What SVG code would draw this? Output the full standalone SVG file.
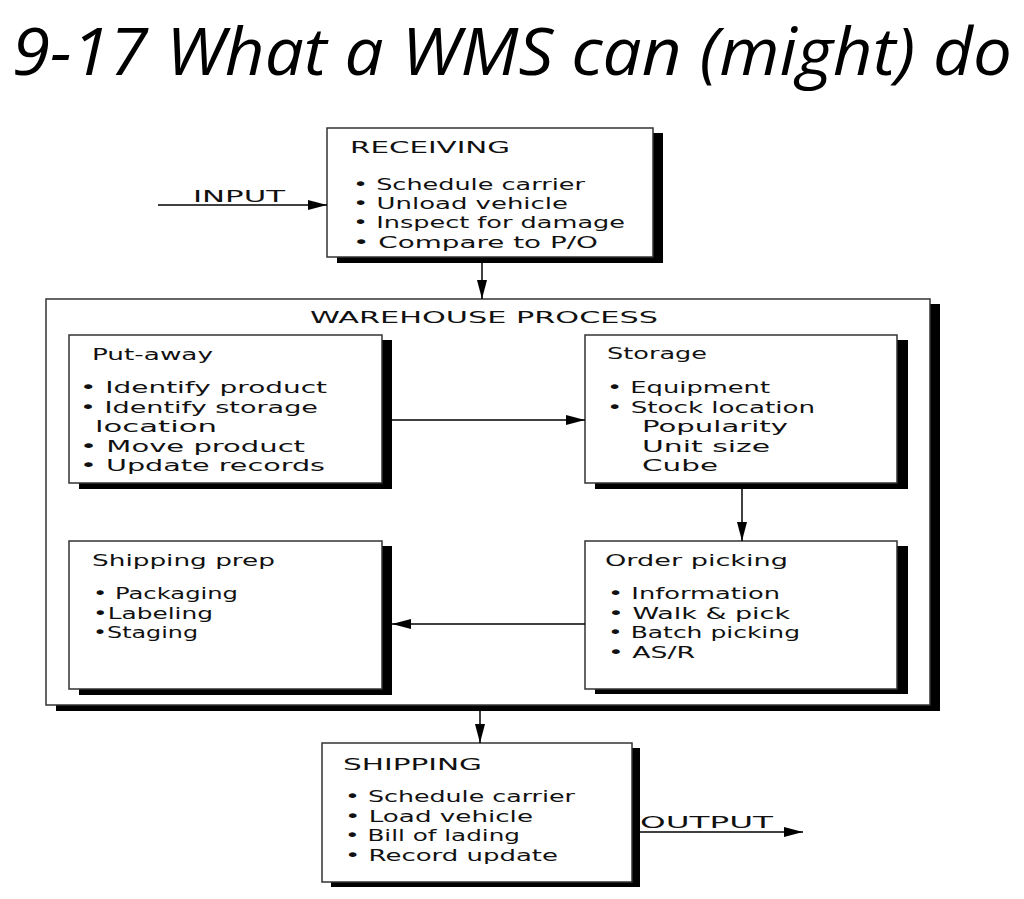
<svg xmlns="http://www.w3.org/2000/svg" width="1024" height="899" viewBox="0 0 1024 899">
<style>
.t{font-family:"DejaVu Sans","Liberation Sans",sans-serif;font-size:16.5px;fill:#111}
.box{fill:#fff;stroke:#333;stroke-width:1.5}
.sh{fill:#000}
.c{stroke:#000;stroke-width:1.5;fill:none;marker-end:url(#ah)}
.title{font-family:"Open Sans","Liberation Sans",sans-serif;font-style:italic;font-size:66px;fill:#000}
</style>
<defs>
<marker id="ah" markerUnits="userSpaceOnUse" markerWidth="20" markerHeight="12" refX="19" refY="6" orient="auto">
<path d="M0,1 L19,6 L0,11 z" fill="#000"/>
</marker>
</defs>
<rect width="1024" height="899" fill="#fff"/>
<text class="title" x="12" y="75" textLength="1000" lengthAdjust="spacingAndGlyphs">9-17 What a WMS can (might) do</text>

<g id="warehouse">
<rect class="sh" x="56" y="304" width="884" height="407"/>
<rect class="box" x="46" y="299" width="884" height="406"/>
<text class="t" x="310" y="323" textLength="348" lengthAdjust="spacingAndGlyphs">WAREHOUSE PROCESS</text>
</g>

<g id="receiving">
<rect class="sh" x="337" y="133" width="326" height="130"/>
<rect class="box" x="327" y="128" width="326" height="129"/>
<text class="t" x="350" y="153" textLength="160" lengthAdjust="spacingAndGlyphs">RECEIVING</text>
<text class="t" x="353" y="190" textLength="232" lengthAdjust="spacingAndGlyphs">• Schedule carrier</text>
<text class="t" x="353" y="209" textLength="215" lengthAdjust="spacingAndGlyphs">• Unload vehicle</text>
<text class="t" x="353" y="228" textLength="272" lengthAdjust="spacingAndGlyphs">• Inspect for damage</text>
<text class="t" x="353" y="248" textLength="245" lengthAdjust="spacingAndGlyphs">• Compare to P/O</text>
</g>

<g id="putaway">
<rect class="sh" x="79" y="340" width="313" height="149"/>
<rect class="box" x="69" y="335" width="313" height="148"/>
<text class="t" x="92" y="360" textLength="121" lengthAdjust="spacingAndGlyphs">Put-away</text>
<text class="t" x="80" y="393" textLength="247" lengthAdjust="spacingAndGlyphs">• Identify product</text>
<text class="t" x="80" y="412.5" textLength="238" lengthAdjust="spacingAndGlyphs">• Identify storage</text>
<text class="t" x="95" y="432" textLength="122" lengthAdjust="spacingAndGlyphs">location</text>
<text class="t" x="80" y="451.5" textLength="225" lengthAdjust="spacingAndGlyphs">• Move product</text>
<text class="t" x="80" y="471" textLength="245" lengthAdjust="spacingAndGlyphs">• Update records</text>
</g>

<g id="storage">
<rect class="sh" x="595" y="340" width="313" height="149"/>
<rect class="box" x="585" y="335" width="312" height="148"/>
<text class="t" x="607" y="359" textLength="100" lengthAdjust="spacingAndGlyphs">Storage</text>
<text class="t" x="607" y="393" textLength="163" lengthAdjust="spacingAndGlyphs">• Equipment</text>
<text class="t" x="607" y="412.5" textLength="208" lengthAdjust="spacingAndGlyphs">• Stock location</text>
<text class="t" x="642" y="432" textLength="146" lengthAdjust="spacingAndGlyphs">Popularity</text>
<text class="t" x="642" y="451.5" textLength="128" lengthAdjust="spacingAndGlyphs">Unit size</text>
<text class="t" x="642" y="471" textLength="76" lengthAdjust="spacingAndGlyphs">Cube</text>
</g>

<g id="shippingprep">
<rect class="sh" x="79" y="546" width="313" height="149"/>
<rect class="box" x="69" y="541" width="313" height="148"/>
<text class="t" x="92" y="566" textLength="183" lengthAdjust="spacingAndGlyphs">Shipping prep</text>
<text class="t" x="93" y="599" textLength="145" lengthAdjust="spacingAndGlyphs">• Packaging</text>
<text class="t" x="93" y="618.5" textLength="120" lengthAdjust="spacingAndGlyphs">•Labeling</text>
<text class="t" x="93" y="638" textLength="105" lengthAdjust="spacingAndGlyphs">•Staging</text>
</g>

<g id="orderpicking">
<rect class="sh" x="595" y="546" width="313" height="148"/>
<rect class="box" x="585" y="541" width="312" height="148"/>
<text class="t" x="605" y="566" textLength="183" lengthAdjust="spacingAndGlyphs">Order picking</text>
<text class="t" x="608" y="599" textLength="172" lengthAdjust="spacingAndGlyphs">• Information</text>
<text class="t" x="608" y="618.5" textLength="182" lengthAdjust="spacingAndGlyphs">• Walk &amp; pick</text>
<text class="t" x="608" y="638" textLength="192" lengthAdjust="spacingAndGlyphs">• Batch picking</text>
<text class="t" x="608" y="657.5" textLength="87" lengthAdjust="spacingAndGlyphs">• AS/R</text>
</g>

<g id="shipping">
<rect class="sh" x="331" y="748" width="309" height="139"/>
<rect class="box" x="322" y="743" width="310" height="139"/>
<text class="t" x="343" y="770" textLength="139" lengthAdjust="spacingAndGlyphs">SHIPPING</text>
<text class="t" x="345" y="802" textLength="230" lengthAdjust="spacingAndGlyphs">• Schedule carrier</text>
<text class="t" x="345" y="821.5" textLength="188" lengthAdjust="spacingAndGlyphs">• Load vehicle</text>
<text class="t" x="345" y="841" textLength="175" lengthAdjust="spacingAndGlyphs">• Bill of lading</text>
<text class="t" x="345" y="860.5" textLength="213" lengthAdjust="spacingAndGlyphs">• Record update</text>
</g>

<g id="connectors">
<line class="c" x1="158" y1="205" x2="327" y2="205"/>
<text class="t" x="193" y="202" textLength="92" lengthAdjust="spacingAndGlyphs">INPUT</text>
<line class="c" x1="482" y1="263" x2="482" y2="299"/>
<line class="c" x1="392" y1="420" x2="585" y2="420"/>
<line class="c" x1="742" y1="489" x2="742" y2="541"/>
<line class="c" x1="585" y1="624" x2="392" y2="624"/>
<line class="c" x1="480" y1="711" x2="480" y2="743"/>
<line class="c" x1="640" y1="832" x2="803" y2="832"/>
<text class="t" x="640" y="828" textLength="133" lengthAdjust="spacingAndGlyphs">OUTPUT</text>
</g>
</svg>
